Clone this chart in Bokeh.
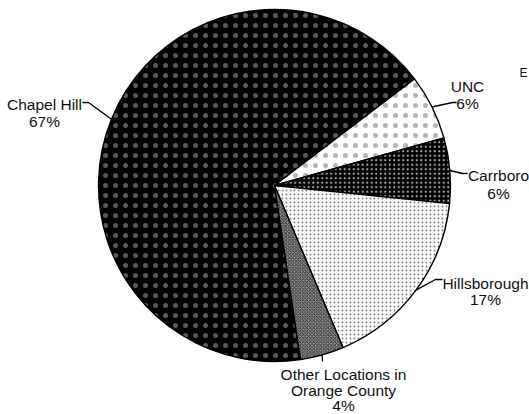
import math
from bokeh.plotting import figure
from bokeh.models import Range1d
from bokeh.embed import file_html
from bokeh.resources import INLINE
from bokeh.core.properties import value

# ---- data ----
categories = ["Chapel Hill", "UNC", "Carrboro", "Hillsborough", "Other Locations in\nOrange County"]
shares = [67, 6, 6, 17, 4]
pct_labels = ["67%", "6%", "6%", "17%", "4%"]
stray_label = "E"

# ---- styles (per category) ----
fill_colors = ["black", "white", "black", "white", "#8c8c8c"]
hatch_patterns = ["dot", "dot", "dot", "dot", "diagonal_cross"]
hatch_colors = ["#5a5a5a", "#b4b4b4", "#a8a8a8", "#808080", "#1a1a1a"]
hatch_scales = [10, 10, 4.5, 4, 3.5]
hatch_weights = [0.8, 0.8, 1.3, 1.2, 0.8]

# ---- layout (screen pixels of the page) ----
W, H = 529, 414
CX, CY, R = 274, 185, 176
START_DEG = -81.5
FONT = "Liberation Sans"
FS = "15.5px"
LINE_STEP = 16.2
label_layout = [
    dict(x=44, base=104, elbow=(88, 102), end=(82, 102), step=16.8),
    dict(x=467, base=86, elbow=(452, 102), end=(456, 102), step=16.8),
    dict(x=498, base=175, elbow=(462, 173), end=(467, 173), step=17.5),
    dict(x=485, base=283, elbow=(435, 279), end=(442, 279), step=15.6),
    dict(x=343, base=374, elbow=(322, 361), end=(322, 361), step=15.5),
]


def sx(x):
    return x


def sy(y):
    return H - y


p = figure(width=W, height=H, x_range=Range1d(0, W), y_range=Range1d(0, H),
           output_backend="svg", toolbar_location=None,
           x_axis_type=None, y_axis_type=None, min_border=0)
p.outline_line_color = None
p.background_fill_color = "white"
p.border_fill_color = "white"
p.grid.visible = False

total = float(sum(shares))
a = START_DEG
mids = []
for i, s in enumerate(shares):
    span = 360.0 * s / total
    p.wedge(x=sx(CX), y=sy(CY), radius=R, radius_units="screen",
            start_angle=math.radians(a), end_angle=math.radians(a - span),
            direction="clock",
            fill_color=fill_colors[i], hatch_pattern=hatch_patterns[i],
            hatch_color=hatch_colors[i], hatch_scale=hatch_scales[i],
            hatch_weight=hatch_weights[i],
            line_color="black", line_width=1.4)
    mids.append(a - span / 2)
    a -= span

# leader lines
for i, lay in enumerate(label_layout):
    m = math.radians(mids[i])
    ex, ey = CX + R * math.cos(m), CY - R * math.sin(m)
    xs = [ex, lay["elbow"][0], lay["end"][0]]
    ys = [ey, lay["elbow"][1], lay["end"][1]]
    p.line([sx(v) for v in xs], [sy(v) for v in ys], line_color="black", line_width=1.4)

# labels
tx, ty, tt = [], [], []
for i, lay in enumerate(label_layout):
    lines = categories[i].split("\n") + [pct_labels[i]]
    for k, ln in enumerate(lines):
        tx.append(sx(lay["x"]))
        ty.append(sy(lay["base"] + k * lay["step"]))
        tt.append(ln)
p.text(x=tx, y=ty, text=tt, text_font=value(FONT), text_font_size=FS,
       text_align="center", text_baseline="alphabetic", text_color="#111111")

p.text(x=[sx(523)], y=[sy(72)], text=[stray_label], text_font=value(FONT),
       text_font_size="12px", text_align="center", text_baseline="alphabetic",
       text_color="#111111")

open("out.html", "w").write(file_html(p, INLINE))
